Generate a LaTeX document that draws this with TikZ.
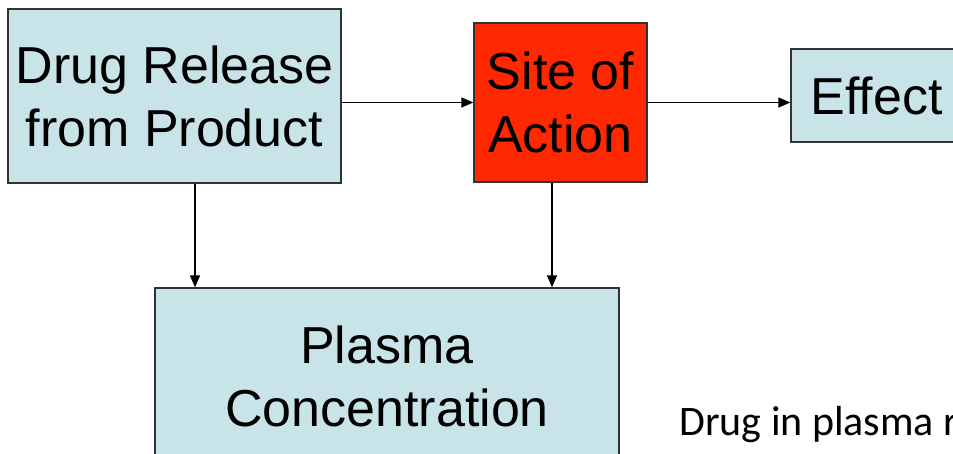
\documentclass[tikz,border=0pt]{standalone}
\usepackage{fontspec}
\setmainfont{Liberation Sans}
\newfontfamily\notefont{Carlito}
\usetikzlibrary{arrows.meta}
\definecolor{boxblue}{RGB}{200,228,232}
\definecolor{boxred}{RGB}{255,40,0}
\definecolor{edge}{RGB}{50,50,50}
\tikzset{
  stagebox/.style={draw=edge, line width=1.3pt, fill=boxblue, inner sep=0pt,
    align=center, font=\fontsize{52}{63}\selectfont},
  flow/.style={draw=black, line width=1.2pt,
    -{Triangle[length=12pt,width=10pt]}},
}
\begin{document}
\begin{tikzpicture}[x=1pt,y=-1pt]
\useasboundingbox (0,0) rectangle (953,454);
\begin{scope}
\clip (0,0) rectangle (953,454);
% stages of drug action
\node[stagebox, minimum width=333pt, minimum height=174pt] (release) at (174.5,96)
  {Drug Release\\from Product};
\node[stagebox, fill=boxred, minimum width=173pt, minimum height=159pt] (site) at (560.5,102.5)
  {Site of\\Action};
\node[stagebox, minimum width=171pt, minimum height=93pt] (effect) at (876.5,95.5)
  {Effect};
\node[stagebox, minimum width=464pt, minimum height=176pt] (plasma) at (387,376)
  {Plasma\\Concentration};
% caption text below the right-hand side
\node[anchor=base west, inner sep=0pt, font=\notefont\fontsize{42}{50}\selectfont] (note)
  at (679,435) {Drug in plasma r};
% connectors
\draw[flow] (site.west -| release.east) -- (site.west);
\draw[flow] (site.east) -- (site.east -| effect.west);
\draw[flow] ([xshift=20.5pt]release.south) -- ([xshift=20.5pt]release.south |- plasma.north);
\draw[flow] ([xshift=-8.5pt]site.south) -- ([xshift=-8.5pt]site.south |- plasma.north);
\end{scope}
\end{tikzpicture}
\end{document}
